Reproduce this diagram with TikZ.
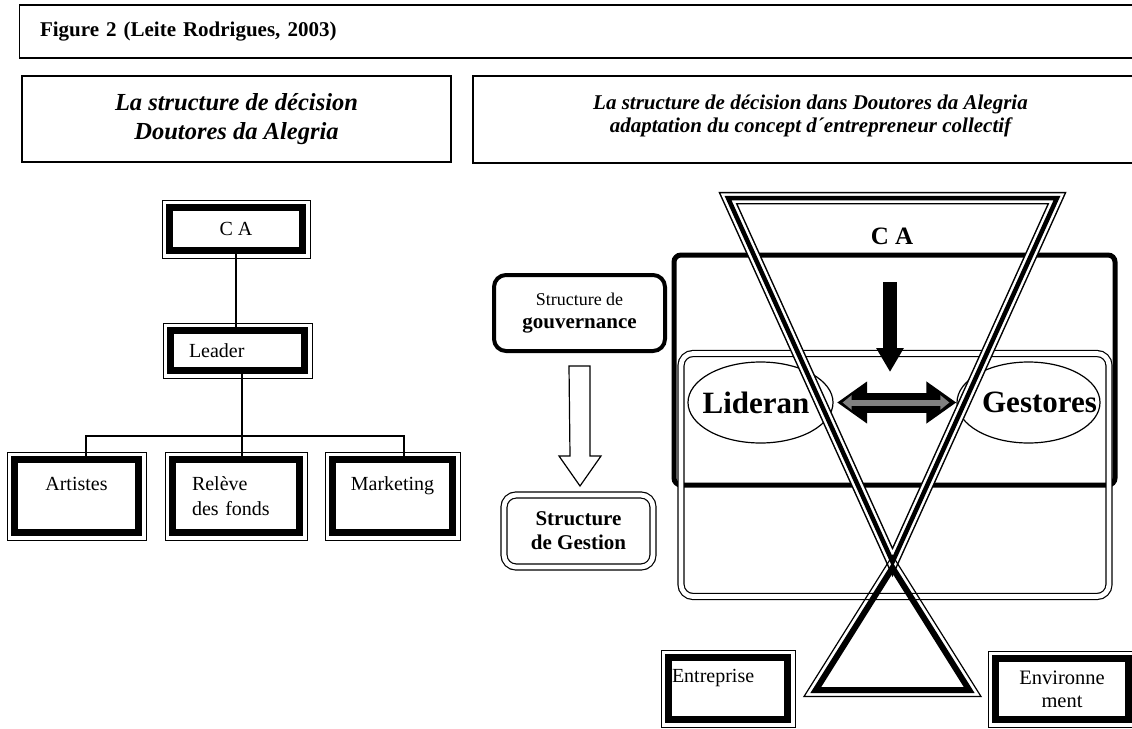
\documentclass[tikz,border=0pt]{standalone}
\usepackage{fontspec}
\setmainfont{Liberation Serif}
\usetikzlibrary{shapes.geometric,arrows.meta}

\begin{document}
\begin{tikzpicture}[x=1pt,y=-1pt,
	headbox/.style={draw,line width=1.3pt,outer sep=0pt},
	heavybox/.style={draw,line width=7pt,inner sep=0pt,font=\fontsize{20}{25}\selectfont},
	roundbox/.style={draw,rounded corners=12pt,inner sep=0pt},
	link/.style={line width=1.3pt},
	tripleline/.style={line width=4.5pt,preaction={draw,line width=12.5pt},preaction={draw,white,line width=9.5pt}},
	bigword/.style={font=\bfseries\fontsize{31}{36}\selectfont}]
	\useasboundingbox (0,0) rectangle (1132,728);
	\clip (0,0) rectangle (1132,728);
	\fill[white] (0,0) rectangle (1132,728);

	% Titres
	\node[headbox,anchor=west,minimum width=1140pt,minimum height=53pt,inner xsep=20.5pt,text width=1099pt,align=left,font=\bfseries\fontsize{21}{25}\selectfont] (fig) at (19.5,31.5) {Figure 2 (Leite Rodrigues, 2003)};
	\node[headbox,minimum width=429pt,minimum height=86pt,align=center,font=\bfseries\itshape\fontsize{24.5}{29}\selectfont] (lhead) at (236.5,119) {La structure de décision\\Doutores da Alegria};
	\node[headbox,minimum width=675pt,minimum height=87pt] (rhead) at (810.5,119.5) {};
	\node[align=center,font=\bfseries\itshape\fontsize{21}{23}\selectfont] (rheadtxt) at ([yshift=4pt]rhead.center) {La structure de décision dans Doutores da Alegria\\adaptation du concept d´entrepreneur collectif};

	% Organigramme
	\node[heavybox,minimum width=133pt,minimum height=43pt] (ca) at (236,229) {C A};
	\node[heavybox,minimum width=134pt,minimum height=40pt,text width=97pt,inner xsep=18.5pt,align=left] (leader) at (237.5,350.5) {Leader};
	\node[heavybox,minimum width=124pt,minimum height=73pt,align=center] (art) at (76.5,496) {Artistes\\\mbox{}};
	\node[heavybox,minimum width=127pt,minimum height=73pt,text width=88pt,inner xsep=19.5pt,align=left] (rel) at (236,496) {Relève\\des fonds};
	\node[heavybox,minimum width=120pt,minimum height=73pt,align=center] (mkt) at (392.5,496) {Marketing\\\mbox{}};

	\draw[link] (ca.south) -- (ca.south |- leader.north);
	\coordinate (bus) at (242,436);
	\coordinate (busL) at (86,436);
	\coordinate (busR) at (404,436);
	\draw[link] (leader.south -| bus) -- (bus) -- (bus |- rel.north);
	\draw[link] (busL |- art.north) -- (busL) -- (busR) -- (busR |- mkt.north);

	% Gouvernance et gestion
	\node[roundbox,line width=4pt,minimum width=171pt,minimum height=76pt,align=center,font=\fontsize{21}{23}\selectfont] (gouv) at (579.5,313) {{\fontsize{18}{23}\selectfont Structure de}\\\textbf{gouvernance}};
	\node[roundbox,double,line width=1.2pt,double distance=4.8pt,minimum width=149pt,minimum height=72pt,align=center,font=\bfseries\fontsize{21}{24}\selectfont] (gest) at (578.5,531) {Structure\\de Gestion};
	\draw[line width=1.2pt] ([xshift=-10.5pt,yshift=-13pt]gouv.south) -- ++(21,0) -- ++(0,90) -- ++(11,0) -- ++(-21,30) -- ++(-21,-30) -- ++(11,0) -- cycle;

	% Entrepreneur collectif
	\node[draw,line width=5pt,rounded corners=7pt,minimum width=441pt,minimum height=230pt] (caframe) at (894.5,370) {};
	\node[draw,double,line width=1.2pt,double distance=4.8pt,rounded corners=12pt,minimum width=428pt,minimum height=243pt] (gestframe) at (895,475) {};
	\node[draw,ellipse,line width=1.2pt,minimum width=145pt,minimum height=81pt] (lid) at (760.5,402.5) {};
	\node[draw,ellipse,line width=1.2pt,minimum width=143pt,minimum height=81pt] (gestores) at (1028.5,402.5) {};

	\draw[tripleline] (728,198) -- (1057,198) -- (892.5,562) -- cycle;
	\draw[line width=1.2pt] (892.5,555.6) -- (804,696.5) -- (981,696.5) -- cycle;
	\draw[line width=6pt] (892.5,567.8) -- (815.8,690) -- (969.2,690) -- cycle;

	\node[font=\bfseries\fontsize{25}{30}\selectfont] (catxt) at (892,236) {C A};
	\node[bigword] (lidtxt) at ([xshift=-4.5pt]lid.center) {Lideran};
	\node[bigword] (gesttxt) at ([xshift=11pt]gestores.center) {Gestores};

	\coordinate (drop) at (890,282);
	\coordinate (droptip) at (890,372);
	\draw[line width=14pt,-{Triangle[width=26pt,length=24pt]}] (drop) -- (droptip);
	\draw[line width=20pt,{Triangle[width=40pt,length=30pt]}-{Triangle[width=40pt,length=30pt]},shorten <=3.5pt] (lid.east) -- (gestores.west);
	\draw[gray,line width=6pt,{Triangle[width=14pt,length=9pt]}-{Triangle[width=14pt,length=9pt]},shorten <=9pt,shorten >=7pt] (lid.east) -- (gestores.west);

	% Entreprise et environnement
	\node[heavybox,minimum width=119pt,minimum height=62pt,text width=112pt,inner xsep=3.5pt,align=left] (ent) at (728,688.5) {Entreprise\\\mbox{}};
	\node[heavybox,minimum width=133pt,minimum height=61pt,align=center,font=\fontsize{20.5}{23}\selectfont] (env) at (1062,689) {Environne\\ment};

	% Cadres fins
	\foreach \n in {ca,leader,art,rel,mkt,ent,env}
		\draw[line width=1pt] ([shift={(-4pt,-4pt)}]\n.south west) rectangle ([shift={(4pt,4pt)}]\n.north east);
\end{tikzpicture}
\end{document}
